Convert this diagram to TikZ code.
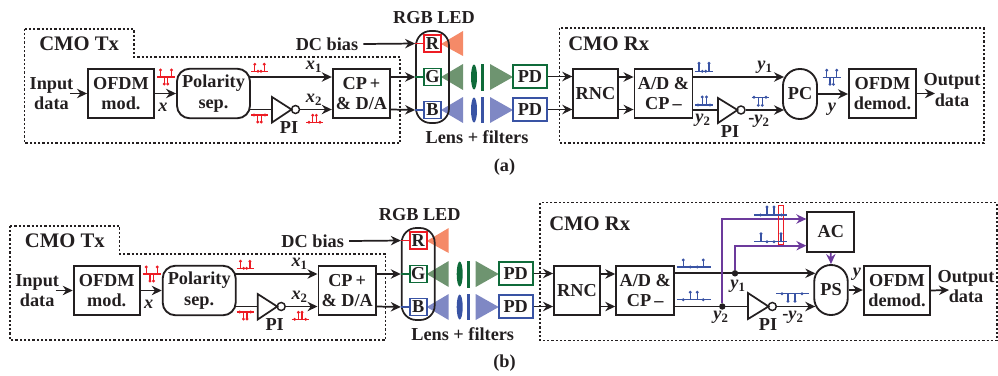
\documentclass[tikz,border=0pt]{standalone}
\usepackage{fontspec}
\setmainfont{Liberation Serif}
\usetikzlibrary{calc, positioning}
\usetikzlibrary{arrows.meta}

\definecolor{ink}{HTML}{231F20}
\definecolor{ledred}{HTML}{ED1C24}
\definecolor{ledgreen}{HTML}{0F6B3A}
\definecolor{ledblue}{HTML}{3953A4}
\definecolor{beamred}{HTML}{F58A68}
\definecolor{beamgreen}{HTML}{6E9470}
\definecolor{beamblue}{HTML}{7F88C4}
\definecolor{feedback}{HTML}{6C3A9C}

\tikzset{
  txt/.style={text=ink, inner sep=0pt, align=center, font=\fontsize{13.7pt}{15.5pt}\selectfont\bfseries},
  title/.style={txt, font=\fontsize{15.5pt}{17pt}\selectfont\bfseries},
  sized/.style 2 args={minimum width=#1*0.75pt, minimum height=#2*0.75pt},
  box/.style={txt, draw=ink, line width=1.4pt},
  ledbox/.style={txt, draw=#1, line width=1.3pt, sized={17}{17}},
  pdbox/.style={txt, draw=#1, line width=1.6pt, sized={34}{23}},
  ln/.style={draw=ink, line width=1.3pt},
  arr/.style={ln, -{Stealth[length=7.5pt,width=7pt]}},
  dotbox/.style={draw=ink, line width=1.1pt, dash pattern=on 1.7pt off 1.5pt},
  bubble/.style={circle, draw=ink, line width=1.1pt, inner sep=0pt, minimum size=6pt},
  dotjoin/.style={circle, fill=ink, inner sep=0pt, minimum size=4.8pt},
  pulse/.style={line width=1pt}
}

% c x, c y, half length, stems dx/dy
\newcommand{\pulses}[5]{
  \draw[#1,pulse] ({#2-#4},#3) -- ({#2+#4},#3);
  \foreach \dx/\dy in {#5} {
    \draw[#1,pulse] ({#2+\dx},#3) -- ({#2+\dx},{#3+\dy});
    \fill[#1] ({#2+\dx},{#3+\dy}) circle (1.6);
  }
}
\newcommand{\sig}[2]{{\itshape #1}\textsubscript{#2}}

\newcommand{\TxSide}{
  \coordinate (up) at (0,77);
  \coordinate (mid) at (0,93.5);
  \coordinate (lo) at (0,109.5);
  \coordinate (dc) at (0,44);
  \draw[dotbox] (24.5,29) -- (134,29) -- (134,57) -- (400,57) -- (400,143) -- (24.5,143) -- cycle;
  \node[title,anchor=west] (txname) at (39,44) {CMO Tx};
  \node[txt] (input) at (51.5,93.5) {Input\\data};
  \node[box,sized={66}{49.5}] (ofdm) at (121,93.5) {OFDM\\mod.};
  \node[box,sized={73}{49.5},rounded corners=9.5pt] (pol) at (213.5,93.5) {Polarity\\sep.};
  \node[box,sized={57.5}{49.5}] (cp) at (361.5,93.5) {CP\,+\\\& D/A};
  \coordinate (instart) at (70,93.5);
  \coordinate (invin) at (272,109.5);
  \node[bubble] (bub) at (295.5,109.5) {};
  \draw[ln] (272,97) -- (291.5,109.5) -- (272,122.5) -- cycle;
  \draw[arr] (instart) -- (ofdm.west);
  \draw[arr] (ofdm.east) -- (pol.west);
  \draw[arr] ([xshift=-1.5pt]pol.east |- up) -- (cp.west |- up);
  \draw[ln] ([xshift=-1.5pt]pol.east |- lo) -- (invin);
  \draw[arr] (bub.east) -- (cp.west |- lo);
  \node[txt,font=\fontsize{13.7pt}{15.5pt}\selectfont\bfseries\itshape] (xlab) at (163,107.5) {x};
  \node[txt] (xup) at (314,67) {\sig{x}{1}};
  \node[txt] (xlo) at (314,100) {\sig{x}{2}};
  \node[txt] (pilab) at (289,127.5) {PI};
  \pulses{ledred}{166}{77}{9}{-5.5/-7,5.5/-7,-1.8/7,1.8/7}
  \pulses{ledred}{259.5}{71.3}{8.5}{-4.7/-7,4.7/-7,-1.5/0,1.5/0}
  \pulses{ledred}{259.5}{115}{8.5}{-1.8/7,1.8/7,-5.5/0,5.5/0}
  \pulses{ledred}{314.5}{122.3}{8.5}{-1.8/-7,1.8/-7,-5.5/0,5.5/0}
  % LED and optics
  \node[txt] (rgb) at (434,18) {RGB LED};
  \node[txt] (dcbias) at (327,44) {DC bias};
  \fill[beamred] (441,44) -- (463,31) -- (463,56) -- cycle;
  \fill[beamgreen] (441,77) -- (463,64) -- (463,90) -- cycle;
  \fill[beamblue] (441,110) -- (463,97) -- (463,123) -- cycle;
  \fill[ledgreen] (474,77) ellipse (3 and 12.5);
  \fill[ledblue] (474,110) ellipse (3 and 12.5);
  \fill[ledgreen] (481,64) rectangle (484,91);
  \fill[ledblue] (481,97) rectangle (484,123);
  \fill[beamgreen] (490,64) -- (490,90) -- (513,77) -- cycle;
  \fill[beamblue] (490,97) -- (490,123) -- (513,110) -- cycle;
  \node[ledbox=ledred] (r) at (432.5,43.5) {R};
  \node[ledbox=ledgreen] (g) at (432.5,77) {G};
  \node[ledbox=ledblue] (b) at (432.5,110) {B};
  \node[ln,sized={33}{92},rounded corners=11pt] (led) at (432.5,77) {};
  \draw[ledred,line width=1pt] (led.west |- r.west) -- (r.west);
  \draw[ledgreen,line width=1pt] (led.west |- g.west) -- (g.west);
  \draw[ledblue,line width=1pt] (led.west |- b.west) -- (b.west);
  \draw[arr] (dcbias.east) ++(5,0) coordinate (dcstart) -- (led.west |- r.west);
  \draw[arr] (cp.east |- up) -- (led.west |- g.west);
  \draw[arr] (cp.east |- lo) -- (led.west |- b.west);
  \node[pdbox=ledgreen] (pdg) at (530,76.5) {PD};
  \node[pdbox=ledblue] (pdb) at (530,109.5) {PD};
  \node[txt] (lens) at (477,137) {Lens + filters};
}

\begin{document}
\begin{tikzpicture}[x=0.75pt,y=-0.75pt]
\useasboundingbox (0,0) rectangle (998,375);

% panel a
\begin{scope}[name prefix=a]
  \TxSide
\end{scope}
\node[txt] (capa) at (504.5,167) {(a)};
\draw[dotbox] (559.5,28) rectangle (984,143);
\node[title,anchor=west] (rxa) at (568,43.5) {CMO Rx};
\node[box,sized={44.5}{49.5}] (rnca) at (595.5,93.5) {RNC};
\node[box,sized={58}{49.5}] (ada) at (663.5,93.5) {A/D \&\\CP\,–};
\node[box,sized={34}{50},rounded corners=12.5pt] (pca) at (800,94) {PC};
\node[box,sized={67}{49.5}] (demoda) at (882.5,93.5) {OFDM\\demod.};
\node[txt] (outa) at (952,90) {Output\\data};
\node[bubble] (buba) at (741,110) {};
\draw[ln] (718,98) -- (737.5,110) -- (718,123) -- cycle;
\coordinate (invina) at (718,110);
\coordinate (outenda) at (935,93.5);
\draw[arr] (apdg.east) -- (rnca.west |- apdg.east);
\draw[arr] (apdb.east) -- (rnca.west |- apdb.east);
\draw[arr] (rnca.east |- aup) -- (ada.west |- aup);
\draw[arr] (rnca.east |- alo) -- (ada.west |- alo);
\draw[arr] (ada.east |- aup) -- ([xshift=1.5pt]pca.west |- aup);
\draw[ln] (ada.east |- invina) -- (invina);
\draw[arr] (buba.east) -- ([xshift=1.5pt]pca.west |- buba.east);
\draw[arr] (pca.east) -- (demoda.west |- pca.east);
\draw[arr] (demoda.east) -- (outenda);
\node[txt] (y1a) at (765,67.5) {\sig{y}{1}};
\node[txt] (y2a) at (703,120) {\sig{y}{2}};
\node[txt] (y3a) at (759,121.5) {-\sig{y}{2}};
\node[txt] (ya) at (832,109) {\itshape y};
\node[txt] (pia) at (730,132) {PI};
\pulses{ledblue}{704}{71.3}{9}{-5/-8,5/-8,-1.7/0,1.7/0}
\pulses{ledblue}{704}{105}{9}{-1.8/-8,2.4/-8,-6/0,6/0}
\pulses{ledblue}{760}{97.3}{8.5}{-1.7/8,2.3/8,-6/0,6/0}
\pulses{ledblue}{831.7}{77.3}{9}{-5/-7,5/-7,-1.7/7,1.7/7}

% panel b
\begin{scope}[shift={(-14.3,197)},name prefix=b]
  \TxSide
\end{scope}
\node[txt] (capb) at (504.5,363) {(b)};
\draw[dotbox] (540,202.7) rectangle (997,340.7);
\node[title,anchor=west] (rxb) at (549,224) {CMO Rx};
\node[box,sized={46}{49.5}] (rncb) at (577,290.5) {RNC};
\node[box,sized={58}{49.5}] (adb) at (645.2,290.5) {A/D \&\\CP\,–};
\node[box,sized={47}{40}] (acb) at (830.8,232) {AC};
\node[box,sized={33.5}{50},rounded corners=12.5pt] (psb) at (831,290) {PS};
\node[box,sized={66.5}{49.5}] (demodb) at (897,290.5) {OFDM\\demod.};
\node[txt] (outb) at (966,286.5) {Output\\data};
\node[bubble] (bubb) at (772.3,306.5) {};
\draw[ln] (748,293) -- (768.5,306.5) -- (748,319) -- cycle;
\coordinate (invinb) at (748,306.5);
\coordinate (outendb) at (949,290);
\coordinate (acupper) at (0,219);
\coordinate (aclower) at (0,245.7);
\node[dotjoin] (joina) at (735,273.3) {};
\node[dotjoin] (joinb) at (722.3,306.5) {};
\draw[arr] (bpdg.east) -- (rncb.west |- bpdg.east);
\draw[arr] (bpdb.east) -- (rncb.west |- bpdb.east);
\draw[arr] (rncb.east |- bup) -- (adb.west |- bup);
\draw[arr] (rncb.east |- blo) -- (adb.west |- blo);
\draw[arr] (adb.east |- joina) -- ([xshift=1.5pt]psb.west |- joina);
\draw[ln] (adb.east |- joinb) -- (invinb);
\draw[arr] (bubb.east) -- ([xshift=1.5pt]psb.west |- bubb.east);
\draw[arr] (psb.east) -- (demodb.west |- psb.east);
\draw[arr] (demodb.east) -- (outendb);
\draw[arr,draw=feedback] (joinb) |- (acb.west |- acupper);
\draw[arr,draw=feedback] (joina) |- (acb.west |- aclower);
\draw[arr,draw=feedback] (acb.south) -- (psb.north);
\draw[ledred,line width=1pt] (778.3,205.7) rectangle (783.7,244.3);
\node[txt] (y1b) at (738,286) {\sig{y}{1}};
\node[txt] (y2b) at (721,317) {\sig{y}{2}};
\node[txt] (y3b) at (793,317) {-\sig{y}{2}};
\node[txt] (yb) at (857,274) {\itshape y};
\node[txt] (pib) at (768,324.5) {PI};
\pulses{ledblue}{770.5}{215}{16.5}{-10/0,-3.5/-8,3.5/-8,11/0}
\pulses{ledblue}{770.5}{241.7}{16.5}{-9.5/-8,10.5/-8,-3.5/0,3.5/0}
\pulses{ledblue}{693.7}{267}{17}{-10.5/-7,9.5/-7,-3.5/0,3.5/0}
\pulses{ledblue}{693.7}{299.7}{17}{-3.5/-7.5,3.5/-7.5,-10.5/0,9.5/0}
\pulses{ledblue}{792.5}{293.7}{16.5}{-4.5/7.5,2.5/7.5,-10.5/0,9.5/0}
\end{tikzpicture}
\end{document}
